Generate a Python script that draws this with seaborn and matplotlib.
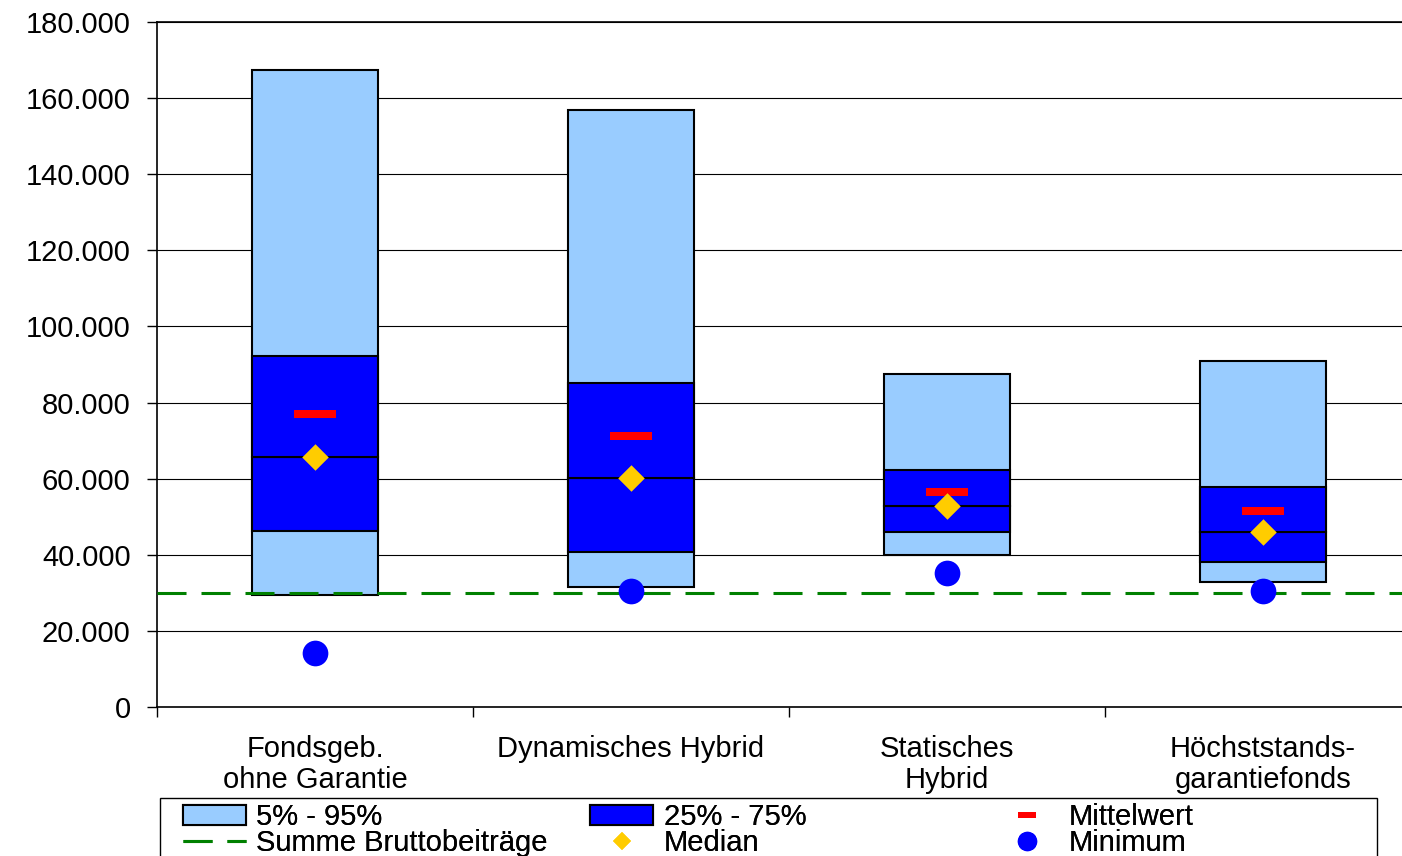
import numpy as np
import pandas as pd
import matplotlib
matplotlib.use('Agg')
import matplotlib.pyplot as plt
import seaborn as sns
from matplotlib.lines import Line2D
from matplotlib.patches import Patch, Rectangle
from matplotlib.ticker import FuncFormatter, FixedLocator

# ────────────────────────────────────────
# Data
# ────────────────────────────────────────
categories = ["Fondsgeb.\nohne Garantie", "Dynamisches Hybrid",
              "Statisches\nHybrid", "Höchststands-\ngarantiefonds"]
p05 = [29400, 31500, 39900, 32800]
p25 = [46200, 40700, 46000, 38100]
median = [65700, 60200, 52800, 46000]
p75 = [92200, 85100, 62300, 57800]
p95 = [167400, 156900, 87500, 90900]
mittelwert = [77000, 71200, 56500, 51500]
minimum = [14200, 30500, 35200, 30500]
summe_brutto = 30000

yticks = np.arange(0, 180001, 20000)

LIGHT = "#99CCFF"
DARK = "#0000FF"
RED = "#FF0000"
GOLD = "#FFCC00"
GREEN = "#008000"

sns.set_theme(style="white")
plt.rcParams['font.family'] = ['Liberation Sans', 'DejaVu Sans']
plt.rcParams['text.color'] = 'black'
plt.rcParams['xtick.color'] = 'black'
plt.rcParams['ytick.color'] = 'black'
plt.rcParams['xtick.labelcolor'] = 'black'
plt.rcParams['ytick.labelcolor'] = 'black'
FS = 21

df = pd.DataFrame({
    "Kategorie": categories,
    "p05": p05, "p25": p25, "Median": median, "p75": p75, "p95": p95,
    "Mittelwert": mittelwert, "Minimum": minimum,
})
df["span_outer"] = df["p95"] - df["p05"]
df["span_low"] = df["Median"] - df["p25"]
df["span_high"] = df["p75"] - df["Median"]

fig = plt.figure(figsize=(14.02, 8.56), dpi=100)
ax = fig.add_axes([157 / 1402, 149 / 856, 1264 / 1402, 685 / 856])

bar_kw = dict(data=df, x="Kategorie", width=0.4, saturation=1, errorbar=None,
              edgecolor="black", linewidth=1.5, ax=ax, zorder=2)
sns.barplot(y="span_outer", bottom=df["p05"].values, color=LIGHT, **bar_kw)
sns.barplot(y="span_low", bottom=df["p25"].values, color=DARK, **bar_kw)
sns.barplot(y="span_high", bottom=df["Median"].values, color=DARK, **bar_kw)

ax.axhline(summe_brutto, color=GREEN, lw=2.2, dashes=(9.5, 4.9), zorder=3)

mean_marker = [(-1, -0.214), (1, -0.214), (1, 0.214), (-1, 0.214), (-1, -0.214)]
sns.stripplot(data=df, x="Kategorie", y="Mittelwert", jitter=False, color=RED,
              marker=mean_marker, size=30, linewidth=0, ax=ax, zorder=4)
sns.stripplot(data=df, x="Kategorie", y="Median", jitter=False, color=GOLD,
              marker="D", size=13.5, linewidth=0, ax=ax, zorder=4)
sns.stripplot(data=df, x="Kategorie", y="Minimum", jitter=False, color=DARK,
              marker="o", size=18.5, linewidth=0, ax=ax, zorder=4)

# axes styling
ax.set_xlim(-0.5, 3.5)
ax.set_ylim(0, 180000)
ax.set_yticks(yticks)
ax.yaxis.set_major_formatter(FuncFormatter(lambda v, p: f"{int(v):,}".replace(",", ".")))
ax.set_xlabel("")
ax.set_ylabel("")
ax.yaxis.grid(True, color="black", lw=0.8)
ax.set_axisbelow(True)
for side in ["left", "bottom", "top"]:
    ax.spines[side].set_visible(True)
    ax.spines[side].set_color("black")
    ax.spines[side].set_linewidth(1.2)
ax.spines["right"].set_visible(False)

ax.tick_params(axis="y", which="major", direction="out", length=7, width=1,
               color="black", labelsize=FS, pad=12, left=True)
ax.tick_params(axis="x", which="major", length=0, labelsize=FS, pad=20)
ax.xaxis.set_minor_locator(FixedLocator([-0.5, 0.5, 1.5, 2.5, 3.5]))
ax.tick_params(axis="x", which="minor", direction="out", length=7, width=1,
               color="black", bottom=True)
for lbl in ax.get_xticklabels():
    lbl.set_linespacing(1.15)

# ────────────────────────────────────────
# Legend: frame + three columns
# ────────────────────────────────────────
fig.add_artist(Rectangle((160 / 1402, -0.05), 1217 / 1402, 0.05 + 58 / 856,
                         transform=fig.transFigure, facecolor="white",
                         edgecolor="black", lw=1.0, zorder=0))

leg_marker_mean = [(-1, -0.28), (1, -0.28), (1, 0.28), (-1, 0.28), (-1, -0.28)]
cols = [
    ([Patch(facecolor=LIGHT, edgecolor="black", lw=1.5),
      Line2D([], [], color=GREEN, lw=2.2, dashes=(9.5, 4.9))],
     ["5% - 95%", "Summe Bruttobeiträge"], 183),
    ([Patch(facecolor=DARK, edgecolor="black", lw=1.5),
      Line2D([], [], ls="none", marker="D", ms=9, color=GOLD, mew=0)],
     ["25% - 75%", "Median"], 590),
    ([Line2D([], [], ls="none", marker=leg_marker_mean, ms=13, color=RED, mew=0),
      Line2D([], [], ls="none", marker="o", ms=14, color=DARK, mew=0)],
     ["Mittelwert", "Minimum"], 995),
]
for handles, labels, xpix in cols:
    leg = fig.legend(handles, labels, loc="upper left",
                     bbox_to_anchor=(xpix / 1402, (856 - 803) / 856),
                     bbox_transform=fig.transFigure, frameon=False, fontsize=FS,
                     borderpad=0, borderaxespad=0, handlelength=2.17,
                     handletextpad=0.35, labelspacing=-0.07)
    fig.add_artist(leg)

fig.savefig("out.png", dpi=100)
